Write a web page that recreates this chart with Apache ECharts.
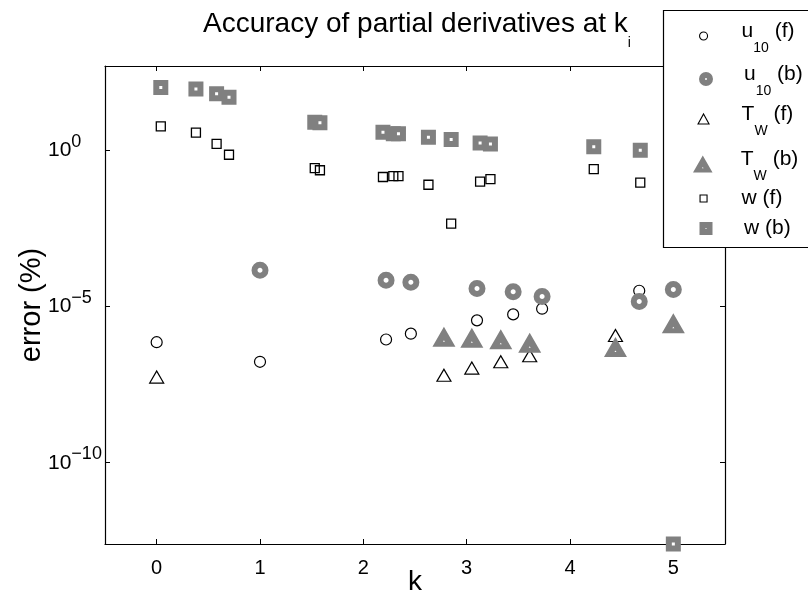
<!DOCTYPE html>
<html>
<head>
<meta charset="utf-8">
<script src="https://cdn.jsdelivr.net/npm/echarts@6/dist/echarts.min.js"></script>
<style>
  html, body { margin: 0; padding: 0; background: #ffffff; }
  #chart { width: 808px; height: 600px; }
</style>
</head>
<body>
<div id="chart"></div>
<script>
// Relative error (%) of each partial derivative, forward (f) and backward (b) schemes
const kU10f  = [0.00, 1.00, 2.22, 2.46, 3.10, 3.45, 3.73, 4.67];
const errU10f = [7.2e-7, 1.7e-7, 8.8e-7, 1.35e-6, 3.6e-6, 5.6e-6, 8.5e-6, 3.2e-5];

const kU10b  = [1.00, 2.22, 2.46, 3.10, 3.45, 3.73, 4.67, 5.00];
const errU10b = [1.45e-4, 6.9e-5, 6.0e-5, 3.8e-5, 2.95e-5, 2.1e-5, 1.45e-5, 3.5e-5];

const kTwf  = [0.00, 2.78, 3.05, 3.33, 3.61, 4.44];
const errTwf = [5.5e-8, 6.3e-8, 1.07e-7, 1.7e-7, 2.65e-7, 1.18e-6];

const kTwb  = [2.78, 3.05, 3.33, 3.61, 4.44, 5.00];
const errTwb = [1.07e-6, 1.0e-6, 8.9e-7, 6.9e-7, 5.1e-7, 2.9e-6];

const kWf  = [0.04, 0.38, 0.58, 0.70, 1.53, 1.58, 2.19, 2.29, 2.34, 2.63, 2.85, 3.13, 3.23, 4.23, 4.68];
const errWf = [5.8, 3.7, 1.6, 0.72, 0.27, 0.23, 0.14, 0.15, 0.15, 0.079, 0.0045, 0.10, 0.12, 0.25, 0.093];

const kWb  = [0.04, 0.38, 0.58, 0.70, 1.53, 1.58, 2.19, 2.29, 2.34, 2.63, 2.85, 3.13, 3.23, 4.23, 4.68, 5.00];
const errWb = [102, 91, 65, 50, 7.9, 7.6, 3.8, 3.4, 3.4, 2.6, 2.2, 1.7, 1.6, 1.3, 1.0, 2.5e-13];

// Axis ranges and tick values
const xMin = -0.5, xMax = 5.5;
const xTicks = [0, 1, 2, 3, 4, 5];
const yMin = 2.5e-13, yMax = 500;
const yTicks = [1e-10, 1e-5, 1];

const seriesNames = ['u10 (f)', 'u10 (b)', 'Tw (f)', 'Tw (b)', 'w (f)', 'w (b)'];
const legendLabels = {
  'u10 (f)': '{m|u}{s|10}{m| (f)}',
  'u10 (b)': '{m|u}{s|10}{m| (b)}',
  'Tw (f)': '{m|T}{s|W}{m| (f)}',
  'Tw (b)': '{m|T}{s|W}{m| (b)}',
  'w (f)': '{p|w (f)}',
  'w (b)': '{p|w (b)}'
};

const FONT = '"Liberation Sans", Arial, Helvetica, sans-serif';
const GRAY = '#808080';
const BLACK = '#000000';

// filled triangle with a small centre hole (inner contour wound the other way)
const holedTriangle = 'path://M23,0 L46,40 L0,40 Z M23,27 L21,30 L25,30 Z';

function pairs(xs, ys) {
  return xs.map((x, i) => [x, ys[i]]);
}

const markerStyles = {
  'u10 (f)': { symbol: 'circle', size: 11, item: { color: 'transparent', borderColor: BLACK, borderWidth: 1.2 } },
  'u10 (b)': { symbol: 'circle', size: 11, item: { color: '#ffffff', borderColor: GRAY, borderWidth: 6 } },
  'Tw (f)':  { symbol: 'triangle', size: [14, 12], item: { color: 'transparent', borderColor: BLACK, borderWidth: 1.2 } },
  'Tw (b)':  { symbol: holedTriangle, size: [23, 20], item: { color: GRAY, borderWidth: 0 } },
  'w (f)':   { symbol: 'rect', size: 9, item: { color: 'transparent', borderColor: BLACK, borderWidth: 1.3 } },
  'w (b)':   { symbol: 'rect', size: 9, item: { color: '#ffffff', borderColor: GRAY, borderWidth: 6 } }
};

const seriesData = {
  'u10 (f)': pairs(kU10f, errU10f),
  'u10 (b)': pairs(kU10b, errU10b),
  'Tw (f)': pairs(kTwf, errTwf),
  'Tw (b)': pairs(kTwb, errTwb),
  'w (f)': pairs(kWf, errWf),
  'w (b)': pairs(kWb, errWb)
};

const series = seriesNames.map(name => ({
  name: name,
  type: 'scatter',
  xAxisIndex: 0,
  yAxisIndex: 0,
  symbol: markerStyles[name].symbol,
  symbolSize: markerStyles[name].size,
  itemStyle: Object.assign({ opacity: 1 }, markerStyles[name].item),
  emphasis: { disabled: true },
  data: seriesData[name]
}));

// one legend block per entry so each row sits at its own height;
// cy = icon centre, w/h = icon box, sub = label carries a subscript
const legendRows = [
  { name: 'u10 (f)', cy: 35,  w: 8,  h: 8,  sub: true,  item: { color: 'transparent', borderColor: BLACK, borderWidth: 1.1 } },
  { name: 'u10 (b)', cy: 78,  w: 8,  h: 8,  sub: true,  item: { color: '#ffffff', borderColor: GRAY, borderWidth: 6 } },
  { name: 'Tw (f)',  cy: 118, w: 11, h: 10, sub: true,  item: { color: 'transparent', borderColor: BLACK, borderWidth: 1.1 } },
  { name: 'Tw (b)',  cy: 163, w: 20, h: 17, sub: true,  item: { color: GRAY, borderWidth: 0 } },
  { name: 'w (f)',   cy: 200, w: 7,  h: 7,  sub: false, item: { color: 'transparent', borderColor: BLACK, borderWidth: 1.1 } },
  { name: 'w (b)',   cy: 230, w: 7,  h: 7,  sub: false, item: { color: '#ffffff', borderColor: GRAY, borderWidth: 6 } }
];
const legendIconX = 703;
const legendTextX = 741;
const legendLineH = 24;
const subShift = 6;

const legendRich = {
  m: { fontFamily: FONT, fontSize: 21, lineHeight: legendLineH, color: BLACK, padding: [0, 0, 10, 0] },
  s: { fontFamily: FONT, fontSize: 14, lineHeight: 14, color: BLACK, padding: [24, 0, 0, 0] },
  p: { fontFamily: FONT, fontSize: 21, lineHeight: legendLineH, color: BLACK }
};

const legends = legendRows.map(row => ({
  data: [{ name: row.name, itemStyle: row.item }],
  orient: 'vertical',
  align: 'left',
  left: legendIconX - row.w / 2,
  top: row.cy - legendLineH / 2 - (row.sub ? subShift : 0),
  padding: 0,
  itemWidth: row.w,
  itemHeight: row.h,
  symbolKeepAspect: true,
  selectedMode: false,
  formatter: n => legendLabels[n],
  textStyle: {
    fontFamily: FONT, fontSize: 21, color: BLACK,
    padding: [0, 0, 0, legendTextX - (legendIconX + row.w / 2 + 5)],
    rich: legendRich
  }
}));

function expLabel(v) {
  const e = Math.round(Math.log10(v));
  const s = e < 0 ? '\u2212' + (-e) : String(e);
  return '{b|10}{e|' + s + '}';
}

const axisLineStyle = { color: BLACK, width: 1.2 };

const option = {
  backgroundColor: '#ffffff',
  animation: false,
  title: {
    text: '{m|Accuracy of partial derivatives at k}{s|i}',
    left: 203,
    top: 9,
    padding: 0,
    textStyle: {
      fontFamily: FONT,
      fontWeight: 'normal',
      rich: {
        m: { fontFamily: FONT, fontSize: 28, fontWeight: 'normal', lineHeight: 30, color: BLACK },
        s: { fontFamily: FONT, fontSize: 14, fontWeight: 'normal', lineHeight: 14, color: BLACK, padding: [38, 0, 0, 0] }
      }
    }
  },
  legend: legends,
  graphic: [{
    type: 'rect',
    z: 3,
    shape: { x: 663.5, y: 10.5, width: 160, height: 237 },
    style: { fill: '#ffffff', stroke: BLACK, lineWidth: 1.2 }
  }],
  grid: { left: 105, right: 83, top: 66, bottom: 56, containLabel: false, outerBoundsMode: 'none' },
  xAxis: [{
    type: 'value',
    min: xMin,
    max: xMax,
    name: 'k',
    nameLocation: 'middle',
    nameGap: 24,
    nameMoveOverlap: false,
    nameTextStyle: { fontFamily: FONT, fontSize: 28, color: BLACK },
    axisLine: { show: true, onZero: false, lineStyle: axisLineStyle },
    axisTick: { show: true, inside: true, length: 5, customValues: xTicks, lineStyle: { color: BLACK, width: 1 } },
    axisLabel: { customValues: xTicks, margin: 14, fontFamily: FONT, fontSize: 20, color: BLACK },
    splitLine: { show: false }
  }, {
    type: 'value',
    position: 'top',
    min: xMin,
    max: xMax,
    axisLine: { show: true, onZero: false, lineStyle: axisLineStyle },
    axisTick: { show: true, inside: true, length: 5, customValues: xTicks, lineStyle: { color: BLACK, width: 1 } },
    axisLabel: { show: false },
    splitLine: { show: false }
  }],
  yAxis: [{
    type: 'log',
    logBase: 10,
    min: yMin,
    max: yMax,
    name: 'error (%)',
    nameLocation: 'middle',
    nameGap: 59,
    nameRotate: 90,
    nameMoveOverlap: false,
    nameTextStyle: { fontFamily: FONT, fontSize: 29, color: BLACK },
    axisLine: { show: true, onZero: false, lineStyle: axisLineStyle },
    axisTick: { show: true, inside: true, length: 5, customValues: yTicks, lineStyle: { color: BLACK, width: 1 } },
    minorTick: { show: false },
    axisLabel: {
      customValues: yTicks,
      margin: 57,
      align: 'left',
      formatter: expLabel,
      rich: {
        b: { fontFamily: FONT, fontSize: 21, lineHeight: 22, color: BLACK },
        e: { fontFamily: FONT, fontSize: 18, lineHeight: 18, color: BLACK, padding: [0, 0, 17, 0] }
      }
    },
    splitLine: { show: false }
  }, {
    type: 'log',
    logBase: 10,
    position: 'right',
    min: yMin,
    max: yMax,
    axisLine: { show: true, onZero: false, lineStyle: axisLineStyle },
    axisTick: { show: true, inside: true, length: 5, customValues: yTicks, lineStyle: { color: BLACK, width: 1 } },
    minorTick: { show: false },
    axisLabel: { show: false },
    splitLine: { show: false }
  }],
  series: series
};

const chart = echarts.init(document.getElementById('chart'), null, { renderer: 'canvas' });
chart.setOption(option);
</script>
</body>
</html>
